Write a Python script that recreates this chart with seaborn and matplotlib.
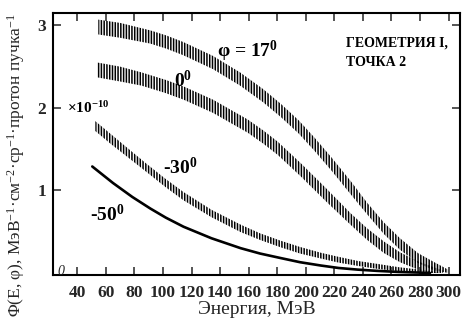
import matplotlib
matplotlib.use("Agg")
import matplotlib.pyplot as plt
import seaborn as sns
import numpy as np
import pandas as pd

# ---- data ----
E17 = [54.7, 70, 91, 102, 114, 135, 154, 170, 182.5, 195, 205.6, 218, 231.6, 243, 254.8, 266, 278.6, 290, 299.7]
F17 = [2.98, 2.94, 2.86, 2.80, 2.72, 2.55, 2.35, 2.15, 1.97, 1.77, 1.57, 1.32, 1.03, 0.78, 0.54, 0.35, 0.18, 0.08, 0.02]
H17 = [0.09, 0.09, 0.08, 0.08, 0.08, 0.08, 0.08, 0.08, 0.08, 0.08, 0.08, 0.08, 0.08, 0.07, 0.07, 0.07, 0.06, 0.05, 0.02]

E0 = [54, 70, 85, 101.8, 114.4, 135, 159.3, 170, 180.4, 196.5, 214, 231.6, 243, 254.8, 266, 278.6, 288, 296]
F0 = [2.46, 2.41, 2.35, 2.26, 2.18, 2.02, 1.78, 1.65, 1.51, 1.25, 0.95, 0.65, 0.47, 0.31, 0.19, 0.09, 0.04, 0.01]
H0 = [0.09, 0.09, 0.08, 0.08, 0.08, 0.08, 0.08, 0.08, 0.08, 0.08, 0.08, 0.07, 0.07, 0.07, 0.06, 0.05, 0.04, 0.02]

E30 = [52.6, 63, 73.7, 88, 101.8, 114.4, 134, 154.4, 168, 182.5, 196, 210.5, 223, 236.5, 250, 265, 280, 293]
F30 = [1.78, 1.63, 1.48, 1.28, 1.09, 0.93, 0.72, 0.54, 0.44, 0.35, 0.275, 0.21, 0.16, 0.115, 0.08, 0.045, 0.02, 0.0]
H30 = [0.06, 0.06, 0.055, 0.05, 0.05, 0.05, 0.045, 0.045, 0.04, 0.04, 0.04, 0.035, 0.035, 0.03, 0.03, 0.025, 0.02, 0.01]

E50 = [50.5, 65, 78.6, 91.2, 102, 114.4, 134, 154.4, 168, 182.5, 196, 210.5, 223, 236.5, 250, 265, 287]
F50 = [1.29, 1.09, 0.92, 0.78, 0.67, 0.56, 0.42, 0.30, 0.235, 0.18, 0.13, 0.09, 0.06, 0.04, 0.025, 0.012, 0.0]

xticks = list(range(40, 301, 20))
yticks = [1, 2, 3]

sns.set_style("ticks")
plt.rcParams['font.family'] = ['Liberation Serif', 'DejaVu Serif']
plt.rcParams['mathtext.fontset'] = 'custom'
plt.rcParams['mathtext.rm'] = 'Liberation Serif'
plt.rcParams['mathtext.bf'] = 'Liberation Serif:bold'
plt.rcParams['mathtext.it'] = 'Liberation Serif:italic'
plt.rcParams['hatch.linewidth'] = 1.1

fig = plt.figure(figsize=(4.64, 3.23), dpi=100)
ax = fig.add_axes([53/464, 1-275/323, (460-53)/464, (275-13)/323])

def band(E, F, H):
    F = np.array(F); H = np.array(H)
    lo = np.clip(F - H, 0, None)
    hi = F + H
    ax.fill_between(E, lo, hi, facecolor='none', edgecolor='black',
                    hatch='||||||', linewidth=0)

band(E17, F17, H17)
band(E0, F0, H0)
band(E30, F30, H30)

df50 = pd.DataFrame({'E': E50, 'F': F50})
sns.lineplot(data=df50, x='E', y='F', ax=ax, color='black', linewidth=1.9)

ax.set_xlim(23, 308)
ax.set_ylim(-0.025, 3.15)
ax.set_xticks(xticks)
ax.set_yticks(yticks)
ax.tick_params(direction='in', length=6, width=1.1, top=True, right=True,
               labelsize=12.5)
ax.tick_params(axis='x', pad=7)
ax.tick_params(axis='y', pad=5)
for lab in ax.get_xticklabels() + ax.get_yticklabels():
    lab.set_fontweight('bold')
for s in ax.spines.values():
    s.set_linewidth(1.5)
    s.set_color('black')

ax.set_xlabel('Энергия, МэВ', fontsize=14, labelpad=0)
ax.set_ylabel('Φ(E, φ), МэВ$^{-1}$·см$^{-2}$·ср$^{-1}$·протон пучка$^{-1}$',
              fontsize=12.5)
ax.yaxis.set_label_coords(-0.065, 0.42)

tk = dict(fontweight='bold', color='black')
ax.text(138, 2.68, 'φ = 17$^{\\mathbf{0}}$', fontsize=14, ha='left', va='center', **tk)
ax.text(108, 2.33, '0$^{\\mathbf{0}}$', fontsize=14, ha='left', va='center', **tk)
ax.text(100, 1.28, '-30$^{\\mathbf{0}}$', fontsize=14, ha='left', va='center', **tk)
ax.text(49, 0.71, '-50$^{\\mathbf{0}}$', fontsize=14, ha='left', va='center', **tk)
ax.text(228, 2.79, 'ГЕОМЕТРИЯ I,', fontsize=10, ha='left', va='center', **tk)
ax.text(228, 2.55, 'ТОЧКА 2', fontsize=10, ha='left', va='center', **tk)
ax.text(33, 2.0, '×10$^{\\mathbf{-10}}$', fontsize=11, ha='left', va='center', **tk)
ax.text(28.5, 0.02, '0', fontsize=10, ha='center', va='center', fontstyle='italic')

fig.savefig('out.png', dpi=100)
